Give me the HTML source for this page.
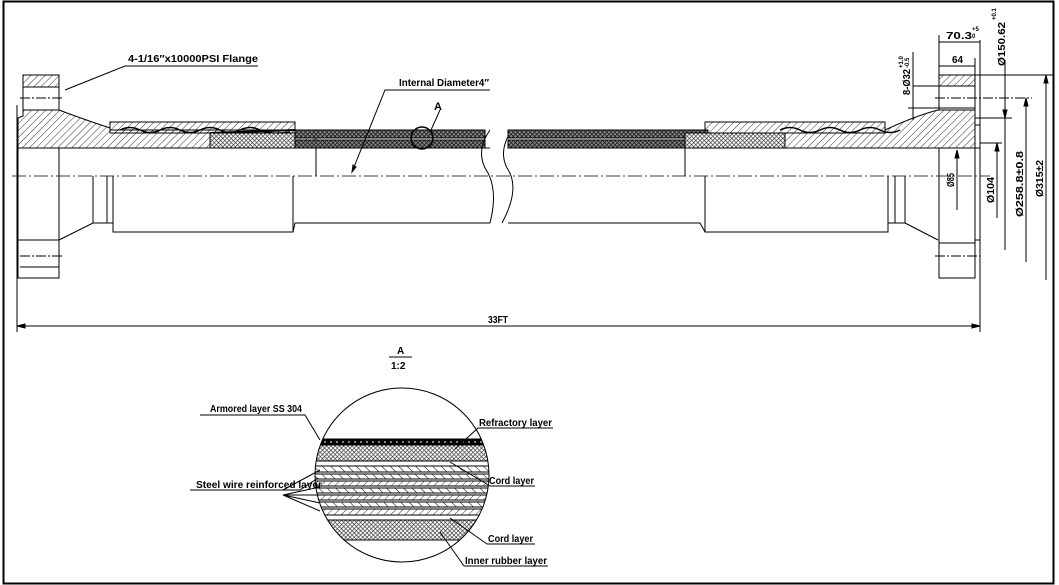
<!DOCTYPE html>
<html><head><meta charset="utf-8"><style>
html,body{margin:0;padding:0;background:#fff;}
svg{display:block;}
text{font-family:"Liberation Sans",sans-serif;font-weight:bold;fill:#000;}
</style></head><body>
<svg width="1059" height="585" viewBox="0 0 1059 585" xmlns="http://www.w3.org/2000/svg">
<defs>
<pattern id="h" width="5" height="5" patternUnits="userSpaceOnUse" patternTransform="rotate(45)">
<line x1="0" y1="0" x2="0" y2="5" stroke="#000" stroke-width="0.8"/></pattern>
<pattern id="x" width="3" height="3" patternUnits="userSpaceOnUse" patternTransform="rotate(45)">
<rect width="3" height="3" fill="#fff"/><line x1="0" y1="0" x2="0" y2="3" stroke="#333" stroke-width="1.3"/><line x1="0" y1="0" x2="3" y2="0" stroke="#333" stroke-width="1.3"/></pattern>
<pattern id="xd" width="3" height="3" patternUnits="userSpaceOnUse" patternTransform="rotate(45)">
<rect width="3" height="3" fill="#888"/><line x1="0" y1="0" x2="0" y2="3" stroke="#111" stroke-width="1.5"/><line x1="0" y1="0" x2="3" y2="0" stroke="#111" stroke-width="1.5"/></pattern>
<pattern id="s" width="6" height="6" patternUnits="userSpaceOnUse" patternTransform="rotate(-45)">
<line x1="0" y1="0" x2="0" y2="6" stroke="#000" stroke-width="1"/></pattern>
<clipPath id="cc"><circle cx="402" cy="475" r="87"/></clipPath>
</defs>
<g fill="none" stroke="#000" stroke-width="1">
<rect x="3.5" y="1.5" width="1050" height="582" stroke-width="2"/>
<line x1="17" y1="105" x2="17" y2="332"/>
<line x1="980" y1="40" x2="980" y2="332"/>
<line x1="17" y1="326" x2="980" y2="326"/>
<path d="M17 326 l8 -2 v4z M980 326 l-8 -2 v4z" fill="#000"/>
<line x1="12" y1="176" x2="990" y2="176" stroke-dasharray="14 3 2 3" stroke-width="0.8"/>

<rect x="23" y="75" width="36" height="12" fill="url(#h)"/>
<path d="M23 87 V110 M59 87 V110"/>
<line x1="20" y1="98" x2="62" y2="98" stroke-dasharray="10 2 2 2"/>
<path d="M23 110 H59 Q80 118 110 128 V130 H316 V148 H59 H18 V118 L23 116 Z" fill="url(#h)"/>
<path d="M18 148 V278 H59 V148"/>
<rect x="18" y="240" width="41" height="38"/>
<line x1="20" y1="256" x2="62" y2="256" stroke-dasharray="10 2 2 2"/>
<line x1="20" y1="267" x2="59" y2="267"/>
<path d="M59 240 L93 223 H113 M93 176 V223 M107 176 V223 M113 176 V232 H293 L295 223 H490 M293 176 V232 M316 148 V176"/>
<path d="M110 122 H295 V133 H110 Z" fill="url(#h)"/>
<path d="M120 130 q10-5 20 0 t20 0 t20 0 t20 0 t20 0 t20 0 t20 0 t30 2" stroke-width="1.5"/>
<path d="M210 133 L295 130" stroke-width="2"/>
<rect x="295" y="130" width="190" height="8" fill="url(#xd)"/>
<rect x="295" y="140" width="190" height="8" fill="url(#xd)"/>
<rect x="210" y="133" width="85" height="15" fill="url(#x)"/>
<line x1="295" y1="148" x2="490" y2="148"/>
<circle cx="422" cy="138" r="11" stroke-width="1.5"/>
<line x1="431" y1="130" x2="440" y2="110"/>
<path d="M490 130 q-14 20 -5 38 q14 20 5 55"/>
<path d="M512 130 q-14 20 -5 38 q14 20 -5 55"/>

<rect x="508" y="130" width="200" height="8" fill="url(#xd)"/>
<rect x="508" y="140" width="200" height="8" fill="url(#xd)"/>
<rect x="685" y="133" width="100" height="15" fill="url(#x)"/>
<path d="M685 148 V176 M508 223 H700 L705 232 H888 V176 M705 176 V232 M888 223 H905 V176 M895 176 V223 M905 223 L938 240"/>
<path d="M705 122 H885 V133 H705 Z" fill="url(#h)"/>
<path d="M780 130 q10-5 20 0 t20 0 t20 0 t20 0 t20 0 t20 0" stroke-width="1.5"/>
<path d="M785 133 V148 H938 V148 H975 V110 H938 Q915 116 885 130 V133 Z" fill="url(#h)"/>
<path d="M975 110 V125 H980 V148 H975"/>
<rect x="939" y="75" width="36" height="11" fill="url(#h)"/>
<path d="M939 86 V110 M975 86 V110"/>
<path d="M939 148 V278 H975 V148 M975 240 H980"/>
<rect x="939" y="243" width="36" height="35"/>
<line x1="935" y1="256" x2="980" y2="256" stroke-dasharray="10 2 2 2"/>
<line x1="935" y1="98" x2="1032" y2="98" stroke-dasharray="10 2 2 2"/>
<path d="M939 35 V75 M975 58 V75 M939 42 H980 M939 66 H975"/>
<path d="M975 75 H1053 M975 118 H1012 M980 143 H1002"/>
<path d="M1005 60 V250 M1026 98 V262 M1046 75 V280 M997 143 V218 M957 150 V210"/>
<path d="M1026 98 l-2 8 h4z M1046 75 l-2 8 h4z M1005 118 l-2 -8 h4z M997 143 l-2 8 h4z M957 150 l-2 8 h4z" fill="#000"/>
<path d="M913 52 V120 M913 86 H975 M908 108 H975"/>
<path d="M65 90 L125 66 H258"/>
<path d="M352 172 L385 90 H490"/>
<path d="M352 172 l1 -7 l3 2z" fill="#000"/>

<line x1="389" y1="357" x2="412" y2="357"/>
<g clip-path="url(#cc)">
<rect x="300" y="439" width="200" height="6" fill="#000"/>
<line x1="300" y1="442" x2="500" y2="442" stroke="#fff" stroke-dasharray="2 4"/>
<rect x="300" y="445" width="200" height="16" fill="url(#x)"/>
<rect x="300" y="461" width="200" height="5" fill="#fff"/>
<rect x="300" y="466" width="200" height="6" fill="url(#s)"/>
<rect x="300" y="474" width="200" height="5" fill="url(#s)"/>
<rect x="300" y="481" width="200" height="5" fill="url(#h)"/>
<rect x="300" y="488" width="200" height="5" fill="url(#s)"/>
<rect x="300" y="495" width="200" height="5" fill="url(#h)"/>
<rect x="300" y="502" width="200" height="5" fill="url(#s)"/>
<rect x="300" y="509" width="200" height="6" fill="url(#h)"/>
<rect x="300" y="520" width="200" height="20" fill="url(#x)"/>
<path d="M300 466 H500 M300 472 H500 M300 479 H500 M300 486 H500 M300 493 H500 M300 500 H500 M300 507 H500 M300 515 H500 M300 520 H500 M300 540 H500" stroke-width="0.8"/>
</g>
<circle cx="402" cy="475" r="87"/>
<path d="M200 415 H305 L320 440"/>
<path d="M478 428 H553 M478 428 L455 449"/>
<path d="M490 486 H535 M490 486 L450 462"/>
<path d="M190 490 H300 L318 478 M283 495 L320 487 M283 495 L320 495 M283 495 L320 503 M283 495 L320 511 M283 490 L320 470"/>
<path d="M487 544 H535 M487 544 L450 518"/>
<path d="M464 566 H548 M464 566 L440 532"/>
</g>

<g font-size="10">
<text x="128" y="62" textLength="130" lengthAdjust="spacingAndGlyphs">4-1/16″x10000PSI Flange</text>
<text x="399" y="86" textLength="90" lengthAdjust="spacingAndGlyphs">Internal Diameter4″</text>
<text x="434" y="110" font-size="11">A</text>
<text x="488" y="323" font-size="10" textLength="20" lengthAdjust="spacingAndGlyphs">33FT</text>
<text x="946" y="39" textLength="26" lengthAdjust="spacingAndGlyphs">70.3</text>
<text x="972" y="31" font-size="6">+5</text><text x="972" y="38" font-size="6">0</text>
<text x="952" y="63" textLength="11" lengthAdjust="spacingAndGlyphs">64</text>
<text transform="translate(1005,66) rotate(-90)" textLength="44" lengthAdjust="spacingAndGlyphs">Ø150.62</text>
<text transform="translate(996,20) rotate(-90)" font-size="6">+0.1</text>
<text transform="translate(910,95) rotate(-90)" textLength="26" lengthAdjust="spacingAndGlyphs">8-Ø32</text>
<text transform="translate(903,68) rotate(-90)" font-size="6">+1.0</text>
<text transform="translate(909,68) rotate(-90)" font-size="6">-0.5</text>
<text transform="translate(954,187) rotate(-90)" textLength="14" lengthAdjust="spacingAndGlyphs">Ø85</text>
<text transform="translate(994,203) rotate(-90)" textLength="26" lengthAdjust="spacingAndGlyphs">Ø104</text>
<text transform="translate(1023,217) rotate(-90)" textLength="66" lengthAdjust="spacingAndGlyphs">Ø258.8±0.8</text>
<text transform="translate(1043,197) rotate(-90)" textLength="37" lengthAdjust="spacingAndGlyphs">Ø315±2</text>
<text x="397" y="354" font-size="10">A</text>
<text x="391" y="369" font-size="10">1:2</text>
<text x="210" y="412" textLength="92" lengthAdjust="spacingAndGlyphs">Armored layer SS 304</text>
<text x="479" y="426" textLength="73" lengthAdjust="spacingAndGlyphs">Refractory layer</text>
<text x="489" y="484" textLength="45" lengthAdjust="spacingAndGlyphs">Cord layer</text>
<text x="196" y="488" textLength="126" lengthAdjust="spacingAndGlyphs">Steel wire reinforced layer</text>
<text x="488" y="542" textLength="45" lengthAdjust="spacingAndGlyphs">Cord layer</text>
<text x="465" y="564" textLength="82" lengthAdjust="spacingAndGlyphs">Inner rubber layer</text>
</g>
</svg>
</body></html>
